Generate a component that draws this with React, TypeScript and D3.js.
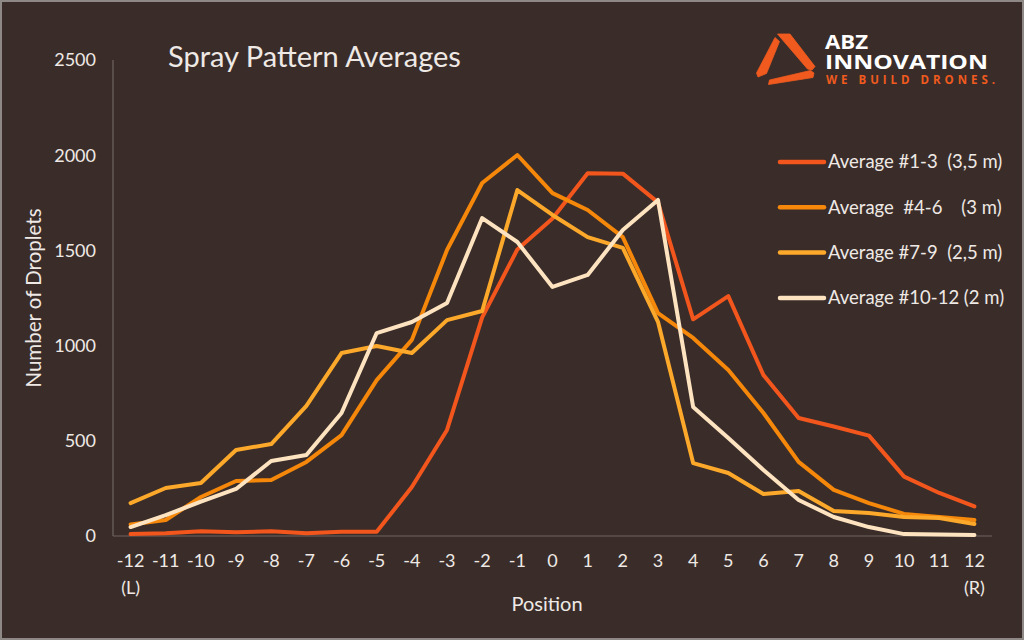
import React from "react";
import * as d3 from "d3";

const positions = [-12, -11, -10, -9, -8, -7, -6, -5, -4, -3, -2, -1, 0, 1, 2, 3, 4, 5, 6, 7, 8, 9, 10, 11, 12];
const positionLabels = positions.map((p) => String(p));
const yTicks = [0, 500, 1000, 1500, 2000, 2500];

const avg1_3 = [10, 15, 25, 20, 25, 15, 22, 22, 257, 557, 1148, 1505, 1668, 1905, 1903, 1752, 1138, 1260, 845, 620, 575, 527, 312, 226, 155];
const avg4_6 = [60, 84, 205, 289, 294, 389, 530, 819, 1030, 1502, 1854, 2001, 1801, 1712, 1570, 1171, 1040, 872, 646, 389, 242, 173, 116, 100, 84];
const avg7_9 = [173, 252, 278, 452, 483, 683, 961, 998, 961, 1134, 1182, 1817, 1686, 1570, 1513, 1125, 383, 331, 221, 236, 131, 121, 100, 95, 63];
const avg10_12 = [47, 110, 180, 247, 394, 425, 646, 1066, 1124, 1224, 1670, 1544, 1308, 1371, 1607, 1765, 678, 515, 347, 189, 100, 47, 10, 8, 5];

const seriesNames = ["Average #1-3  (3,5 m)", "Average  #4-6    (3 m)", "Average #7-9  (2,5 m)", "Average #10-12 (2 m)"];
const seriesColors = ["#f2561d", "#f5870a", "#fca82a", "#fde3c0"];
const seriesValues = [avg1_3, avg4_6, avg7_9, avg10_12];

const W = 1024;
const H = 640;
const FONT = "Lato, 'Open Sans', sans-serif";
const TEXT = "#efe9e6";

export default function App() {
  const x = d3.scalePoint<number>().domain(positions).range([113, 992]).padding(0.5);
  const y = d3.scaleLinear().domain([0, 2500]).range([536, 60]);
  const line = d3
    .line<number>()
    .x((_, i) => x(positions[i]) as number)
    .y((d) => y(d));

  return (
    <svg width={W} height={H} style={{ position: "absolute", left: 0, top: 0 }} fontFamily={FONT}>
      <rect x={0} y={0} width={W} height={H} fill="#3a2d29" />
      <rect x={1} y={1} width={W - 2} height={H - 2} fill="none" stroke="#8e8986" strokeWidth={2} />

      {/* title */}
      <text x={168} y={67} fontSize={29} fill={TEXT}>Spray Pattern Averages</text>

      {/* logo */}
      <g fill="#f05a1e" stroke="#f05a1e" strokeWidth={0.8} strokeLinejoin="round">
        <polygon points="775,37.5 779.5,41.5 766.5,73.5 758,77 756.5,73" />
        <polygon points="777.5,34 790,34 815,66.5 812,70 807.5,69" />
        <polygon points="768.5,84.5 769.5,80 810.5,70.5 814,73 813,77.5" />
      </g>
      <text x={825} y={48.5} fontSize={19} fontWeight={700} fill="#ffffff" fontFamily="'Open Sans', sans-serif" textLength={43} lengthAdjust="spacingAndGlyphs">ABZ</text>
      <text x={825} y={68.5} fontSize={20} fontWeight={700} fill="#ffffff" fontFamily="'Open Sans', sans-serif" textLength={163} lengthAdjust="spacingAndGlyphs">INNOVATION</text>
      <text x={826} y={83.5} fontSize={11.5} fontWeight={700} fill="#f05a1e" fontFamily="'Open Sans', sans-serif" textLength={169} lengthAdjust="spacing">WE BUILD DRONES.</text>

      {/* axes */}
      <line x1={113} x2={113} y1={60} y2={536} stroke="#6f6461" strokeWidth={1.2} />
      <line x1={113} x2={992} y1={536} y2={536} stroke="#6f6461" strokeWidth={1.2} />

      {yTicks.map((t) => (
        <text key={t} x={96} y={y(t)} dy="0.35em" textAnchor="end" fontSize={18} fill={TEXT}>{t}</text>
      ))}
      {positions.map((p, i) => (
        <text key={p} x={x(p)} y={561} dy="0.35em" textAnchor="middle" fontSize={18} fill={TEXT}>{positionLabels[i]}</text>
      ))}
      <text x={x(-12)} y={588} dy="0.35em" textAnchor="middle" fontSize={18} fill={TEXT}>(L)</text>
      <text x={x(12)} y={588} dy="0.35em" textAnchor="middle" fontSize={18} fill={TEXT}>(R)</text>
      <text x={547} y={604} dy="0.35em" textAnchor="middle" fontSize={20} fill={TEXT}>Position</text>
      <text transform="translate(34,298) rotate(-90)" dy="0.35em" textAnchor="middle" fontSize={20.5} fill={TEXT}>Number of Droplets</text>

      {/* series */}
      {seriesValues.map((vals, si) => (
        <path key={si} d={line(vals) || ""} fill="none" stroke={seriesColors[si]} strokeWidth={4} strokeLinejoin="round" strokeLinecap="round" />
      ))}

      {/* legend */}
      {seriesNames.map((name, i) => {
        const ly = 162 + i * 45.3;
        return (
          <g key={name}>
            <line x1={780} x2={824} y1={ly} y2={ly} stroke={seriesColors[i]} strokeWidth={4.5} strokeLinecap="round" />
            <text x={828} y={ly} dy="0.35em" fontSize={18.5} fill={TEXT} style={{ whiteSpace: "pre" }}>{name}</text>
          </g>
        );
      })}
    </svg>
  );
}
